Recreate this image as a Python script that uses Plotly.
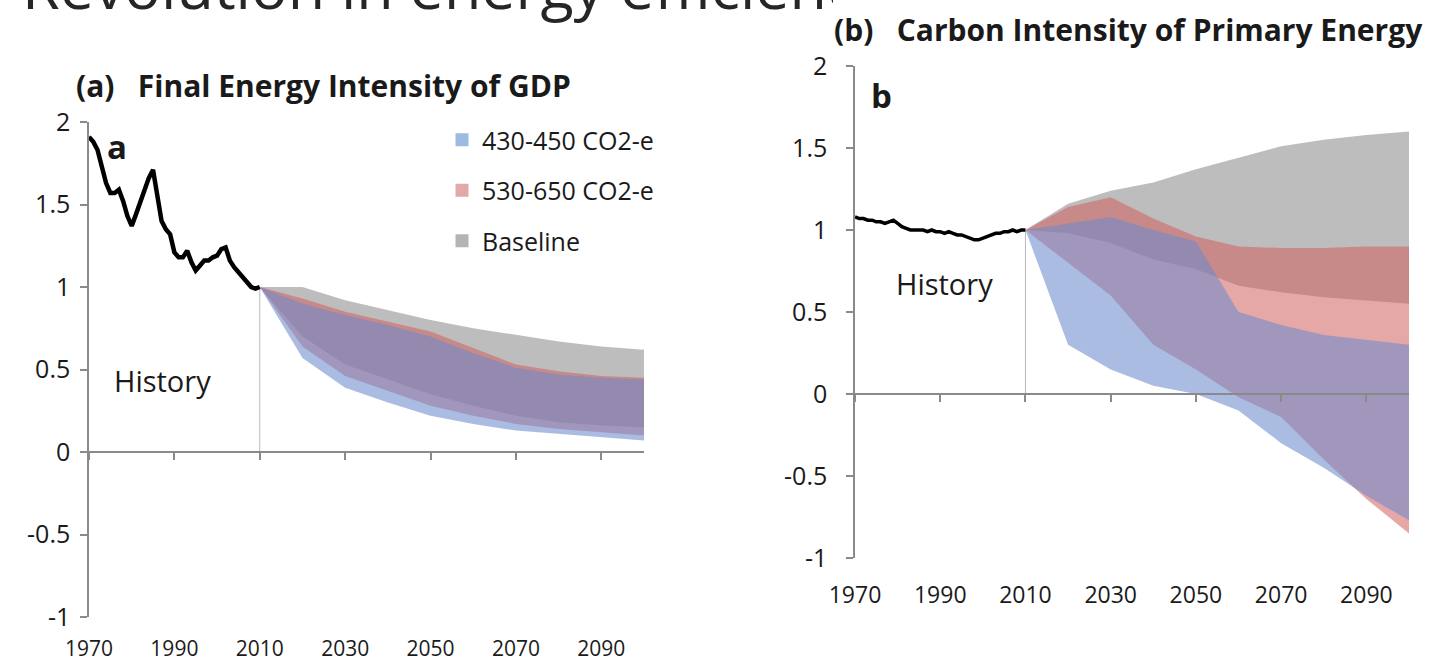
import plotly.graph_objects as go

W, H = 1433, 663

# ---- data -------------------------------------------------------------
hist_years = list(range(1970, 2011))

# (a) final energy intensity of GDP, index 2010 = 1
energy_hist = [1.91, 1.88, 1.83, 1.72, 1.63, 1.57, 1.57, 1.59, 1.52, 1.43,
               1.37, 1.44, 1.52, 1.60, 1.66, 1.71, 1.55, 1.40, 1.35, 1.32,
               1.21, 1.18, 1.18, 1.22, 1.15, 1.10, 1.13, 1.16, 1.16, 1.18,
               1.19, 1.23, 1.24, 1.16, 1.12, 1.09, 1.06, 1.02, 1.00, 0.99,
               1.00]

# (b) carbon intensity of primary energy, index 2010 = 1
carbon_hist = [1.08, 1.07, 1.07, 1.06, 1.06, 1.05, 1.05, 1.04, 1.05, 1.06,
               1.04, 1.02, 1.01, 1.00, 1.00, 1.00, 1.00, 0.99, 1.00, 0.99,
               0.99, 0.98, 0.99, 0.98, 0.97, 0.97, 0.96, 0.95, 0.94, 0.94,
               0.95, 0.96, 0.97, 0.98, 0.98, 0.99, 0.99, 1.00, 0.99, 1.00,
               1.00]

proj_years = [2010, 2020, 2030, 2040, 2050, 2060, 2070, 2080, 2090, 2100]

# scenario ranges, panel (a)
a_base_hi = [1.00, 1.00, 0.92, 0.86, 0.80, 0.75, 0.71, 0.67, 0.64, 0.62]
a_base_lo = [1.00, 0.70, 0.53, 0.44, 0.35, 0.28, 0.22, 0.18, 0.16, 0.15]
a_530_hi = [1.00, 0.93, 0.85, 0.79, 0.73, 0.63, 0.53, 0.49, 0.46, 0.45]
a_530_lo = [1.00, 0.64, 0.46, 0.37, 0.28, 0.22, 0.17, 0.14, 0.12, 0.10]
a_430_hi = [1.00, 0.90, 0.83, 0.77, 0.70, 0.60, 0.51, 0.47, 0.45, 0.44]
a_430_lo = [1.00, 0.57, 0.39, 0.30, 0.22, 0.17, 0.13, 0.11, 0.09, 0.07]

# scenario ranges, panel (b)
b_base_hi = [1.00, 1.16, 1.24, 1.29, 1.37, 1.44, 1.51, 1.55, 1.58, 1.60]
b_base_lo = [1.00, 0.98, 0.92, 0.82, 0.76, 0.66, 0.62, 0.59, 0.57, 0.55]
b_530_hi = [1.00, 1.14, 1.20, 1.07, 0.96, 0.90, 0.89, 0.89, 0.90, 0.90]
b_530_lo = [1.00, 0.80, 0.60, 0.30, 0.15, -0.02, -0.14, -0.40, -0.64, -0.85]
b_430_hi = [1.00, 1.04, 1.08, 1.00, 0.93, 0.50, 0.42, 0.36, 0.33, 0.30]
b_430_lo = [1.00, 0.30, 0.15, 0.05, 0.00, -0.10, -0.30, -0.45, -0.62, -0.77]

tick_years = [1970, 1990, 2010, 2030, 2050, 2070, 2090]
tick_year_text = [str(y) for y in tick_years]
y_ticks = [-1, -0.5, 0, 0.5, 1, 1.5, 2]
y_tick_text = ["-1", "-0.5", "0", "0.5", "1", "1.5", "2"]

scenario_names = ["430-450 CO2-e", "530-650 CO2-e", "Baseline"]

# ---- styling ----------------------------------------------------------
FONT = "Open Sans"
TXT = "#1a1a1a"
AX = "#8a8a8a"
GRAY = "rgba(128,128,128,0.52)"
RED = "rgba(210,95,95,0.55)"
BLUE = "rgba(110,140,205,0.58)"
SWATCH = {"430-450 CO2-e": "#9dbbe0", "530-650 CO2-e": "#e3a8a8",
          "Baseline": "#b4b4b4"}


def px_x(px):
    return px / W


def px_y(py):
    return (H - py) / H


fig = go.Figure()


def add_band(lo, hi, color, xa, ya):
    fig.add_trace(go.Scatter(x=proj_years, y=lo, mode="lines",
                             line=dict(width=0, color=color), showlegend=False,
                             hoverinfo="skip", xaxis=xa, yaxis=ya))
    fig.add_trace(go.Scatter(x=proj_years, y=hi, mode="lines", fill="tonexty",
                             fillcolor=color, line=dict(width=0, color=color),
                             showlegend=False, hoverinfo="skip", xaxis=xa, yaxis=ya))


# panel (a) fans
add_band(a_base_lo, a_base_hi, GRAY, "x", "y")
add_band(a_530_lo, a_530_hi, RED, "x", "y")
add_band(a_430_lo, a_430_hi, BLUE, "x", "y")
# panel (b) fans
add_band(b_base_lo, b_base_hi, GRAY, "x2", "y2")
add_band(b_530_lo, b_530_hi, RED, "x2", "y2")
add_band(b_430_lo, b_430_hi, BLUE, "x2", "y2")

# drop lines at the last historical year
fig.add_trace(go.Scatter(x=[hist_years[-1]] * 2, y=[0, energy_hist[-1]], mode="lines",
                         line=dict(color="#b8b8b8", width=1), showlegend=False,
                         hoverinfo="skip", xaxis="x", yaxis="y"))
fig.add_trace(go.Scatter(x=[hist_years[-1]] * 2, y=[0, carbon_hist[-1]], mode="lines",
                         line=dict(color="#b8b8b8", width=1), showlegend=False,
                         hoverinfo="skip", xaxis="x2", yaxis="y2"))

# historical series (drawn on the label axes, which share the same range)
fig.add_trace(go.Scatter(x=hist_years, y=energy_hist, mode="lines",
                         line=dict(color="black", width=4.5), showlegend=False,
                         xaxis="x3", yaxis="y"))
fig.add_trace(go.Scatter(x=hist_years, y=carbon_hist, mode="lines",
                         line=dict(color="black", width=3.5), showlegend=False,
                         xaxis="x4", yaxis="y2"))

# legend swatches
for name in scenario_names:
    fig.add_trace(go.Scatter(x=[None], y=[None], mode="markers", name=name,
                             legendgroup=name,
                             marker=dict(symbol="square", size=13, color=SWATCH[name]),
                             xaxis="x", yaxis="y"))

# heading text, clipped by its own invisible plot area
fig.add_trace(go.Scatter(x=[22], y=[0], mode="text",
                         text=["Revolution in energy efficiency"],
                         textposition="top right", cliponaxis=True,
                         textfont=dict(family=FONT, size=61, color="#262626"),
                         showlegend=False, hoverinfo="skip",
                         xaxis="x5", yaxis="y5"))

common_x = dict(range=[1970, 2100], showgrid=False, zeroline=False, fixedrange=True,
                automargin=False)
line_axis = dict(showline=True, linecolor=AX, linewidth=1.5, ticks="outside",
                 ticklen=7, tickwidth=1.5, tickcolor=AX, tickvals=tick_years,
                 showticklabels=False, anchor="free")
label_axis = dict(showline=False, ticks="", tickvals=tick_years, ticktext=tick_year_text,
                  anchor="free")
common_y = dict(range=[-1, 2], showgrid=False, zeroline=False, showline=True,
                linecolor=AX, linewidth=1.5, ticks="outside", ticklen=7,
                tickwidth=1.5, tickcolor=AX, tickvals=y_ticks, ticktext=y_tick_text,
                tickfont=dict(family=FONT, size=25, color=TXT), fixedrange=True,
                automargin=False)

fig.update_layout(
    width=W, height=H, margin=dict(l=0, r=0, t=0, b=0, autoexpand=False),
    paper_bgcolor="white", plot_bgcolor="rgba(0,0,0,0)",
    xaxis=dict(domain=[px_x(89), px_x(644)], position=px_y(452), **common_x, **line_axis),
    xaxis3=dict(domain=[px_x(89), px_x(644)], overlaying="x", position=px_y(634),
                tickfont=dict(family=FONT, size=21, color=TXT), **common_x, **label_axis),
    yaxis=dict(domain=[px_y(617), px_y(122)], anchor="x", ticklabelstandoff=5, **common_y),
    xaxis2=dict(domain=[px_x(855), px_x(1409)], position=px_y(394), **common_x, **line_axis),
    xaxis4=dict(domain=[px_x(855), px_x(1409)], overlaying="x2", position=px_y(579),
                tickfont=dict(family=FONT, size=23, color=TXT), **common_x, **label_axis),
    yaxis2=dict(domain=[px_y(558), px_y(66)], anchor="x2", ticklabelstandoff=14, **common_y),
    xaxis5=dict(domain=[0, px_x(833)], range=[0, 833], visible=False, fixedrange=True),
    yaxis5=dict(domain=[px_y(24), 1], range=[0, 1], visible=False, anchor="x5",
                fixedrange=True),
    showlegend=True,
    legend=dict(x=px_x(442), y=px_y(117), xanchor="left", yanchor="top",
                font=dict(family=FONT, size=25, color=TXT), bgcolor="rgba(0,0,0,0)",
                tracegroupgap=15, itemclick=False, itemdoubleclick=False),
    font=dict(family=FONT, color=TXT),
)

annotations = [
    dict(x=px_x(74), y=px_y(86), text="<b>(a)\u00a0\u00a0 Final Energy Intensity of GDP</b>",
         font=dict(size=30)),
    dict(x=px_x(832), y=px_y(30), text="<b>(b)\u00a0\u00a0 Carbon Intensity of Primary Energy</b>",
         font=dict(size=30)),
    dict(x=px_x(105), y=px_y(146), text="<b>a</b>", font=dict(size=33)),
    dict(x=px_x(869), y=px_y(95), text="<b>b</b>", font=dict(size=33)),
    dict(x=px_x(112), y=px_y(380), text="History", font=dict(size=29)),
    dict(x=px_x(894), y=px_y(283), text="History", font=dict(size=29)),
]
for a in annotations:
    a.update(xref="paper", yref="paper", xanchor="left", yanchor="middle",
             showarrow=False)
    a["font"].update(family=FONT, color=TXT)
fig.update_layout(annotations=annotations)

fig.write_html("out.html")
